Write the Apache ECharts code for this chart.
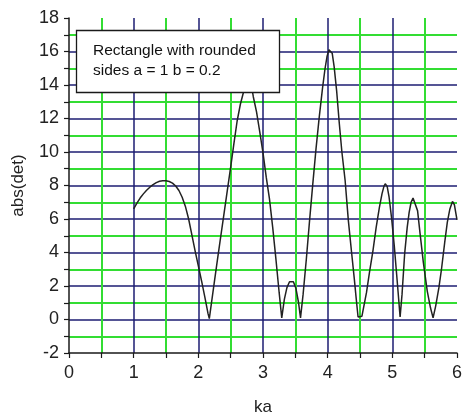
<!DOCTYPE html>
<html>
<head>
<meta charset="utf-8">
<script src="https://cdn.jsdelivr.net/npm/echarts@6/dist/echarts.min.js"></script>
<style>
  html, body { margin: 0; padding: 0; background: #fff; }
  #chart { width: 463px; height: 420px; }
</style>
</head>
<body>
<div id="chart"></div>
<script>
// Sampled |det| against ka for a rectangle with rounded sides (a = 1, b = 0.2)
const kaValues = [
  1.00, 1.05, 1.10, 1.15, 1.20, 1.25, 1.30, 1.35, 1.40, 1.45, 1.50, 1.55, 1.60, 1.65, 1.70, 1.75,
  1.80, 1.85, 1.90, 1.95, 2.00, 2.05, 2.10, 2.15, 2.17, 2.20, 2.25, 2.30, 2.35, 2.40, 2.45, 2.50,
  2.55, 2.60, 2.65, 2.70, 2.75, 2.78, 2.82, 2.85, 2.90, 2.95, 3.00, 3.05, 3.10, 3.15, 3.20, 3.25,
  3.29, 3.33, 3.37, 3.41, 3.44, 3.47, 3.51, 3.55, 3.58, 3.62, 3.67, 3.72, 3.77, 3.82, 3.87, 3.92,
  3.96, 3.99, 4.02, 4.04, 4.07, 4.10, 4.14, 4.18, 4.22, 4.27, 4.32, 4.37, 4.41, 4.44, 4.47, 4.50,
  4.53, 4.56, 4.60, 4.65, 4.70, 4.75, 4.80, 4.84, 4.87, 4.89, 4.92, 4.95, 4.99, 5.03, 5.06, 5.09,
  5.12, 5.15, 5.19, 5.23, 5.26, 5.29, 5.32, 5.35, 5.39, 5.43, 5.48, 5.54, 5.59, 5.63, 5.67, 5.72,
  5.76, 5.81, 5.85, 5.89, 5.93, 5.96, 6.00
];
const absDet = [
  6.60, 6.95, 7.25, 7.50, 7.72, 7.90, 8.05, 8.17, 8.25, 8.29, 8.28, 8.24, 8.14, 7.97, 7.70, 7.30,
  6.75, 6.00, 5.05, 4.10, 3.20, 2.30, 1.35, 0.35, 0.05, 0.90, 2.30, 3.70, 5.05, 6.40, 7.75, 9.10,
  10.50, 11.85, 12.85, 13.60, 14.10, 14.20, 14.00, 13.30, 12.40, 11.20, 9.95, 8.50, 7.20, 5.50, 3.60, 1.60,
  0.10, 1.20, 1.90, 2.25, 2.32, 2.25, 1.85, 1.00, 0.10, 1.50, 3.60, 5.90, 8.10, 10.20, 12.10, 13.80,
  15.00, 15.70, 16.10, 16.20, 15.90, 15.10, 13.60, 11.70, 10.00, 8.30, 5.90, 4.00, 2.50, 1.30, 0.15, 0.25,
  0.20, 0.10, 1.60, 2.90, 4.10, 5.50, 6.70, 7.50, 7.95, 8.10, 7.95, 7.30, 6.00, 4.40, 3.00, 1.60,
  0.15, 1.50, 3.90, 5.50, 6.40, 7.00, 7.25, 7.15, 6.50, 5.10, 3.40, 1.70, 0.70, 0.10, 0.80, 1.90,
  3.00, 4.60, 5.80, 6.60, 7.05, 6.85, 5.95
];
const xTicks = [0, 1, 2, 3, 4, 5, 6];
const yTicks = [-2, 0, 2, 4, 6, 8, 10, 12, 14, 16, 18];
const noteLines = ['Rectangle with rounded', 'sides a = 1 b = 0.2'];

const FONT = 'Liberation Sans, Arial, sans-serif';
const MAJOR = '#1c1c72';
const MINOR = '#33dd33';
const INK = '#1a1a1a';

const points = kaValues.map((k, i) => [k, absDet[i]]);

function axisCommon(ticks) {
  return {
    type: 'value',
    min: ticks[0],
    max: ticks[ticks.length - 1],
    interval: ticks[1] - ticks[0],
    axisLine: { show: true, onZero: false, lineStyle: { color: INK, width: 1.5 } },
    axisTick: { show: true, inside: false, length: 5, lineStyle: { color: INK, width: 1.2 } },
    minorTick: { show: true, splitNumber: 2, length: 5, lineStyle: { color: INK, width: 1.2 } },
    splitLine: { show: true, showMinLine: false, showMaxLine: false, lineStyle: { color: MAJOR, width: 1.5 } },
    minorSplitLine: { show: true, lineStyle: { color: MINOR, width: 2 } },
    axisLabel: { color: '#222', fontFamily: FONT, fontSize: 18 },
    nameTextStyle: { color: '#222', fontFamily: FONT, fontSize: 17 },
    nameLocation: 'middle'
  };
}

const xAxis = Object.assign(axisCommon(xTicks), { name: 'ka', nameGap: 46 });
xAxis.axisLabel.margin = 11;
const yAxis = Object.assign(axisCommon(yTicks), { name: 'abs(det)', nameGap: 42 });
yAxis.axisLabel.margin = 10;

const chart = echarts.init(document.getElementById('chart'), null, { renderer: 'canvas' });
chart.setOption({
  animation: false,
  backgroundColor: '#fff',
  // Note box drawn above the curve
  title: {
    text: noteLines.join('\n'),
    left: 76,
    top: 30,
    z: 20,
    padding: [11, 17, 12, 17],
    backgroundColor: '#ffffff',
    borderColor: INK,
    borderWidth: 1.3,
    textStyle: {
      color: '#111',
      fontFamily: FONT,
      fontSize: 15.5,
      fontWeight: 'normal',
      lineHeight: 20,
      width: 170,
      overflow: 'none'
    }
  },
  grid: { left: 69, top: 18, right: 6, bottom: 67, containLabel: false, outerBoundsMode: 'none' },
  xAxis: xAxis,
  yAxis: yAxis,
  series: [{
    type: 'line',
    data: points,
    showSymbol: false,
    smooth: false,
    z: 2,
    lineStyle: { color: '#222', width: 1.5 }
  }]
});
</script>
</body>
</html>
